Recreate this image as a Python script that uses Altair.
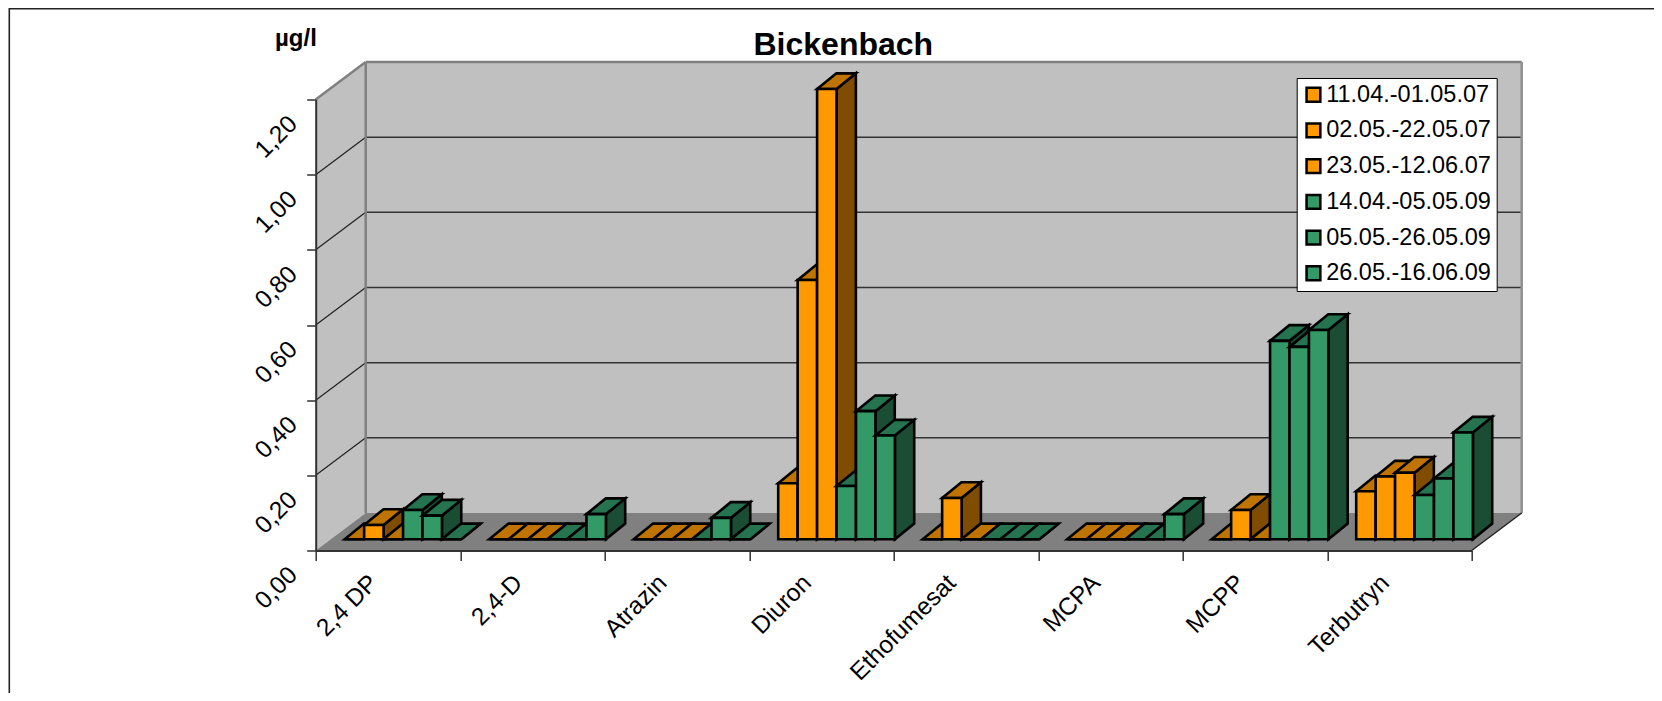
import altair as alt
import pandas as pd

categories = ["2,4 DP", "2,4-D", "Atrazin", "Diuron", "Ethofumesat", "MCPA", "MCPP", "Terbutryn"]
series_names = ["11.04.-01.05.07", "02.05.-22.05.07", "23.05.-12.06.07",
                "14.04.-05.05.09", "05.05.-26.05.09", "26.05.-16.06.09"]
s1 = [0.0, 0.0, 0.0, 0.149, 0.0, 0.0, 0.0, 0.128]
s2 = [0.038, 0.0, 0.0, 0.69, 0.11, 0.0, 0.078, 0.167]
s3 = [0.0, 0.0, 0.0, 1.198, 0.0, 0.0, 0.0, 0.177]
s4 = [0.078, 0.0, 0.0, 0.142, 0.0, 0.0, 0.528, 0.118]
s5 = [0.063, 0.0, 0.057, 0.341, 0.0, 0.0, 0.512, 0.162]
s6 = [0.0, 0.067, 0.0, 0.276, 0.0, 0.067, 0.557, 0.284]
all_series = [s1, s2, s3, s4, s5, s6]
y_ticks = [0.0, 0.2, 0.4, 0.6, 0.8, 1.0, 1.2]

front_colors = ["#FF9900"] * 3 + ["#339966"] * 3
top_colors = ["#BF7300"] * 3 + ["#267350"] * 3
side_colors = ["#804D00"] * 3 + ["#1A4D33"] * 3

W, H = 1156, 451
PAD = {"left": 307.7, "top": 91.5, "right": 182.3, "bottom": 142.5}
WALL_DX, WALL_DY = 0.346, 0.0998
BAR_X0, BAR_W = 0.2007, 0.1346
BAR_DX, BAR_DY = 0.1336, 0.0418
BASE = 0.0298
N = len(categories)
YMAX = y_ticks[-1]

xs = alt.Scale(domain=[0, N], nice=False, zero=False)
ys = alt.Scale(domain=[0, YMAX], nice=False, zero=False)
cat_js = "[" + ",".join(f"'{c}'" for c in categories) + "]"
x_axis = alt.Axis(
    title=None, values=list(range(N + 1)), grid=False, tickSize=10, tickWidth=1.5,
    tickColor="#333333", domainColor="#333333", domainWidth=2, zindex=1,
    labelExpr=f"{cat_js}[datum.value] || ''", labelAngle=-45, labelAlign="right",
    labelBaseline="middle", labelOffset=58, labelPadding=18.5, labelFontSize=24.5,
    labelFont="Liberation Sans", labelColor="black", labelOverlap=False, labelBound=False,
    labelFlush=False)
y_axis = alt.Axis(
    title=None, values=y_ticks, grid=False, tickSize=9, tickWidth=1.5,
    tickColor="#333333", domainColor="#333333", domainWidth=2, zindex=1,
    labelExpr="replace(format(datum.value,'.2f'),'.',',')", labelAngle=-45, labelAlign="right",
    labelBaseline="middle", labelOffset=20.5, labelPadding=13.6, labelFontSize=24.5,
    labelFont="Liberation Sans", labelColor="black", labelOverlap=False, labelBound=False,
    labelFlush=False)


def X(f="x"):
    return alt.X(f"{f}:Q", scale=xs, axis=x_axis)


def Y(f="y"):
    return alt.Y(f"{f}:Q", scale=ys, axis=y_axis)


# Chart walls and floor
planes = []
def plane(name, color, pts):
    for k, (x, y, y2) in enumerate(pts):
        planes.append(dict(id=name, k=k, x=x, y=y, y2=y2, fill=color))

plane("side", "#C0C0C0", [(0, YMAX, 0), (WALL_DX, YMAX + WALL_DY, WALL_DY)])
plane("back", "#C0C0C0", [(WALL_DX, YMAX + WALL_DY, WALL_DY), (N + WALL_DX, YMAX + WALL_DY, WALL_DY)])
plane("floor", "#808080", [(0, 0, 0), (WALL_DX, WALL_DY, 0), (N, WALL_DY, 0), (N + WALL_DX, WALL_DY, WALL_DY)])

area_args = dict(orient="vertical")
plane_layer = alt.Chart(pd.DataFrame(planes)).mark_area(**area_args).encode(
    x=X(), y=Y(), y2=alt.Y2("y2:Q"),
    fill=alt.Fill("fill:N", scale=None), detail="id:N",
)

# Gridlines on the two walls
grid = pd.DataFrame({"v": y_ticks[1:-1]})
grid["vb"] = grid["v"] + WALL_DY
grid["x0"] = 0.0
grid["x1"] = WALL_DX
grid["x2"] = N + WALL_DX
grid_side = alt.Chart(grid).mark_rule(color="#222222", strokeWidth=1.2).encode(
    x=X("x0"), x2="x1:Q", y=Y("v"), y2="vb:Q")
grid_back = alt.Chart(grid).mark_rule(color="#333333", strokeWidth=1.5).encode(
    x=X("x1"), x2="x2:Q", y=Y("vb"), y2="vb:Q")

# Wall outlines
edges = pd.DataFrame([
    dict(x=0, x2=WALL_DX, y=YMAX, y2=YMAX + WALL_DY, c="#808080", w=2.5),
    dict(x=WALL_DX, x2=N + WALL_DX, y=YMAX + WALL_DY, y2=YMAX + WALL_DY, c="#808080", w=2.5),
    dict(x=WALL_DX, x2=WALL_DX, y=WALL_DY, y2=YMAX + WALL_DY, c="#808080", w=2.5),
    dict(x=N + WALL_DX, x2=N + WALL_DX, y=WALL_DY, y2=YMAX + WALL_DY, c="#909090", w=2.5),
    dict(x=N, x2=N + WALL_DX, y=0, y2=WALL_DY, c="#222222", w=1.5),
])
edge_layer = alt.Chart(edges).mark_rule().encode(
    x=X(), x2="x2:Q", y=Y(), y2="y2:Q",
    color=alt.Color("c:N", scale=None), strokeWidth=alt.StrokeWidth("w:Q", scale=None))

# Faces of the bars, drawn left to right
faces = []
fid = 0
def face(color, pts):
    global fid
    for k, (x, y, y2) in enumerate(pts):
        faces.append(dict(id=f"f{fid:04d}", k=k, x=x, y=y, y2=y2, fill=color))
    fid += 1

for i in range(N):
    for j, s in enumerate(all_series):
        v = s[i]
        a = i + BAR_X0 + j * BAR_W
        b = a + BAR_W
        t = BASE + v
        face(side_colors[j], [(b, t, BASE), (b + BAR_DX, t + BAR_DY, BASE + BAR_DY)])
        face(top_colors[j], [(a, t, t), (a + BAR_DX, t + BAR_DY, t), (b, t + BAR_DY, t),
                             (b + BAR_DX, t + BAR_DY, t + BAR_DY)])
        face(front_colors[j], [(a, t, BASE), (b, t, BASE)])

bars = alt.Chart(pd.DataFrame(faces)).mark_area(
    stroke="black", strokeWidth=2.6, strokeJoin="miter", **area_args
).encode(
    x=X(), y=Y(), y2=alt.Y2("y2:Q"),
    fill=alt.Fill("fill:N", scale=None), detail="id:N",
)

# Legend carried by a zero-size layer
legend_df = pd.DataFrame({"series": series_names, "x": [0.0] * 6, "y": [0.0] * 6})
axis_layer = alt.Chart(legend_df).mark_square(size=0).encode(
    x=X(), y=Y(),
    color=alt.Color("series:N", sort=series_names,
                    scale=alt.Scale(domain=series_names, range=front_colors),
                    legend=alt.Legend(
                        title=None, orient="none", legendX=981, legendY=-21.5,
                        fillColor="white", strokeColor="black", padding=5,
                        symbolType="square", symbolSize=190, symbolStrokeColor="black",
                        symbolStrokeWidth=2.5, symbolOpacity=1,
                        labelFont="Liberation Sans", labelFontSize=23.5, labelColor="black",
                        rowPadding=10.7, labelOffset=1, labelLimit=300)),
)

# Texts and frame
def label(txt, x, y, size, align):
    return alt.Chart(pd.DataFrame({"t": [txt]})).mark_text(
        font="Liberation Sans", fontWeight="bold", fontSize=size, align=align,
        baseline="alphabetic", color="black"
    ).encode(text="t:N", x=alt.value(x), y=alt.value(y))

title_txt = label("Bickenbach", 843.3 - 315.7, 55 - 99.5, 32, "center")
unit_txt = label("µg/l", 275 - 315.7, 46 - 99.5, 24, "left")

frame_left = alt.Chart(pd.DataFrame({"a": [0]})).mark_rule(color="#222222", strokeWidth=1.6).encode(
    x=alt.value(-306.4), y=alt.value(-91.5), y2=alt.value(H + 142.5))
frame_top = alt.Chart(pd.DataFrame({"a": [0]})).mark_rule(color="#222222", strokeWidth=1.6).encode(
    x=alt.value(-306.4), x2=alt.value(W + 182.3), y=alt.value(-90.7))

chart = alt.layer(
    frame_left, frame_top, plane_layer, grid_side, grid_back, edge_layer,
    axis_layer, bars, title_txt, unit_txt,
).properties(
    width=W, height=H, padding=PAD, autosize=alt.AutoSizeParams(type="none"),
    background="white",
).configure_view(stroke=None)

chart.save("out.html", embed_options={"renderer": "svg", "actions": False})
